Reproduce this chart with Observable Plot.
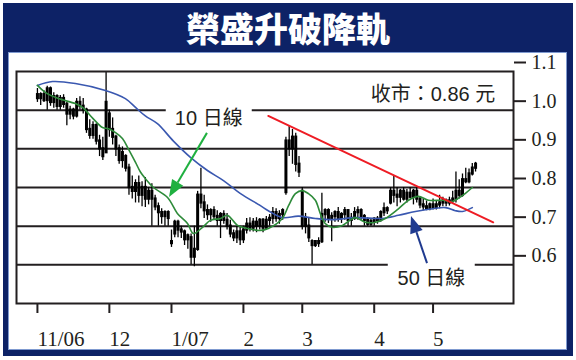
<!DOCTYPE html>
<html><head><meta charset="utf-8">
<script src="https://cdn.jsdelivr.net/npm/d3@7"></script>
<script src="https://cdn.jsdelivr.net/npm/@observablehq/plot@0.6"></script>
<style>
body{margin:0;background:#fff}
#wrap{position:relative;width:576px;height:360px;overflow:hidden;background:#fff}
#outer{position:absolute;left:3px;top:3px;width:570px;height:353px;background:#0d2266}
#title{position:absolute;left:3px;top:3px;width:570px;height:49px;line-height:49px;text-align:center;color:#fff;font-family:"Noto Sans CJK TC";font-weight:900;font-size:34px}
#inner{position:absolute;left:8px;top:52px;width:559px;height:298px;background:#fff;border:1px solid #7f9ad0;box-sizing:border-box}
#chart{position:absolute;left:0;top:48px}
</style></head>
<body>
<div id="wrap">
  <div id="outer"></div>
  <div id="title">榮盛升破降軌</div>
  <div id="inner"></div>
  <div id="chart"></div>
</div>
<script>
// Daily candles, trading-day index 0 = 1 Nov 2006
const opens = [
1.040,1.030,1.040,1.025,1.055,1.020,1.035,1.010,1.030,1.015,
0.990,1.000,0.985,1.020,1.010,1.000,0.950,0.935,0.960,0.920,
0.900,1.020,0.990,0.950,0.930,0.900,0.870,0.880,0.850,0.800,
0.790,0.810,0.780,0.800,0.770,0.790,0.770,0.750,0.735,0.725,
0.735,0.660,0.680,0.710,0.690,0.685,0.665,0.670,0.620,0.640,
0.780,0.760,0.740,0.730,0.740,0.725,0.715,0.730,0.715,0.700,
0.680,0.670,0.685,0.665,0.690,0.705,0.695,0.710,0.700,0.715,
0.695,0.715,0.720,0.735,0.720,0.730,0.787,0.920,0.900,0.930,
0.860,0.790,0.720,0.700,0.660,0.650,0.660,0.660,0.730,0.740,
0.720,0.725,0.735,0.720,0.730,0.740,0.715,0.720,0.735,0.740,
0.725,0.715,0.705,0.712,0.718,0.715,0.735,0.745,0.760,0.790,
0.780,0.775,0.790,0.770,0.785,0.775,0.790,0.770,0.755,0.750,
0.745,0.755,0.748,0.755,0.760,0.765,0.760,0.765,0.770,0.790,
0.780,0.820,0.815,0.835,0.850];
const highs = [
1.056,1.045,1.050,1.062,1.060,1.045,1.040,1.038,1.040,1.020,
1.010,1.005,1.030,1.035,1.030,1.005,0.975,0.970,0.965,0.935,
0.930,1.100,1.000,0.980,0.935,0.910,0.905,0.885,0.860,0.830,
0.820,0.830,0.815,0.826,0.800,0.810,0.780,0.760,0.745,0.740,
0.740,0.690,0.715,0.715,0.700,0.690,0.680,0.680,0.700,0.790,
0.850,0.780,0.755,0.745,0.750,0.740,0.735,0.740,0.733,0.715,
0.690,0.700,0.700,0.700,0.720,0.722,0.720,0.722,0.720,0.720,
0.725,0.730,0.748,0.745,0.740,0.745,0.930,0.960,0.950,0.940,
0.880,0.800,0.733,0.720,0.665,0.663,0.670,0.785,0.745,0.745,
0.735,0.740,0.748,0.735,0.748,0.742,0.733,0.748,0.750,0.745,
0.730,0.722,0.720,0.722,0.725,0.740,0.760,0.750,0.800,0.830,
0.800,0.795,0.800,0.795,0.800,0.795,0.800,0.775,0.770,0.765,
0.760,0.770,0.765,0.780,0.775,0.770,0.775,0.790,0.840,0.820,
0.835,0.850,0.848,0.862,0.865];
const lows = [
1.020,1.012,1.020,1.000,1.010,1.005,1.000,1.000,1.005,0.960,
0.975,0.975,0.980,1.000,0.990,0.940,0.925,0.925,0.910,0.880,
0.870,0.890,0.930,0.910,0.880,0.860,0.850,0.840,0.780,0.770,
0.760,0.760,0.750,0.748,0.755,0.700,0.740,0.700,0.705,0.700,
0.700,0.645,0.670,0.670,0.668,0.650,0.640,0.600,0.595,0.635,
0.745,0.720,0.715,0.710,0.715,0.700,0.668,0.705,0.690,0.670,
0.660,0.655,0.650,0.655,0.680,0.685,0.685,0.683,0.690,0.683,
0.690,0.700,0.705,0.710,0.705,0.715,0.780,0.880,0.860,0.840,
0.826,0.690,0.680,0.658,0.600,0.645,0.645,0.655,0.710,0.707,
0.660,0.710,0.710,0.707,0.715,0.700,0.700,0.715,0.715,0.715,
0.700,0.700,0.700,0.700,0.705,0.710,0.725,0.730,0.755,0.760,
0.750,0.760,0.765,0.760,0.770,0.755,0.760,0.745,0.740,0.740,
0.740,0.742,0.742,0.745,0.750,0.750,0.752,0.758,0.760,0.770,
0.775,0.810,0.810,0.830,0.840];
const closes = [
1.030,1.040,1.025,1.055,1.020,1.035,1.010,1.030,1.015,0.990,
1.000,0.985,1.020,1.010,1.000,0.950,0.935,0.960,0.920,0.900,
0.880,0.890,0.950,0.930,0.900,0.870,0.890,0.850,0.800,0.790,
0.810,0.780,0.800,0.770,0.790,0.770,0.750,0.735,0.725,0.735,
0.720,0.655,0.710,0.690,0.685,0.665,0.675,0.620,0.640,0.780,
0.760,0.740,0.730,0.740,0.725,0.715,0.730,0.715,0.700,0.680,
0.670,0.685,0.665,0.690,0.705,0.695,0.710,0.700,0.715,0.695,
0.715,0.720,0.735,0.720,0.730,0.740,0.920,0.900,0.930,0.860,
0.840,0.700,0.700,0.670,0.650,0.660,0.655,0.730,0.740,0.720,
0.725,0.735,0.720,0.730,0.740,0.715,0.720,0.735,0.740,0.725,
0.715,0.705,0.712,0.718,0.715,0.735,0.745,0.740,0.790,0.780,
0.775,0.790,0.770,0.785,0.775,0.790,0.770,0.755,0.750,0.745,
0.755,0.748,0.755,0.760,0.765,0.760,0.765,0.770,0.790,0.780,
0.820,0.815,0.835,0.850,0.860];

// 10-day moving average (day index, price)
const ma10Days = [0,2.4,6.4,11.6,13.8,16.8,19.9,21.7,23.9,26,27.8,30,31.5,33,35.5,39.8,42.8,45.9,47.7,50.5,52.9,56,58.1,61.2,64.2,68.2,70.6,74.9,76.8,78.9,81,82.9,85,86.5,88,90.2,93.3,97.2,100.3,103.4,106.4,110.4,113.5,116.5,119.6,123.9,126.9,128.7,130.9,133];
const ma10Vals = [1.064,1.046,1.030,1.017,1.007,0.980,0.955,0.952,0.942,0.927,0.900,0.865,0.840,0.823,0.800,0.774,0.733,0.707,0.681,0.697,0.715,0.720,0.728,0.702,0.694,0.689,0.694,0.720,0.753,0.784,0.792,0.784,0.767,0.733,0.707,0.697,0.702,0.722,0.710,0.710,0.720,0.745,0.767,0.777,0.767,0.767,0.764,0.772,0.785,0.800];
// 50-day moving average
const ma50Days = [0,4.6,11.6,20.8,26.9,30,33,36.7,41.6,46.8,52,56.9,62,68.2,70.6,75,79.8,85,90.2,97.2,103.4,105.5,110.4,115.6,120.8,124.8,127.8,130,133];
const ma50Vals = [1.064,1.074,1.069,1.051,1.030,1.007,0.985,0.965,0.920,0.878,0.844,0.818,0.785,0.753,0.740,0.722,0.726,0.720,0.717,0.722,0.720,0.720,0.728,0.738,0.745,0.748,0.740,0.738,0.748];
// falling trend line
const trendDays = [70.6, 139.4];
const trendVals = [0.985, 0.710];

// month ticks (trading-day index) and labels
const monthTicks = [0, 22, 41, 63, 81, 103, 121];
const monthLabels = ["11/06", "12", "1/07", "2", "3", "4", "5"];
const priceTicks = [0.6, 0.7, 0.8, 0.9, 1.0, 1.1];
const gridLevels = [0.6, 0.7, 0.8, 0.9, 1.0];

// annotations
const noteTexts = ["10 日線", "50 日線", "收市：0.86 元"];
const noteDays = [52.4, 120.5, 140];
const notePrices = [0.978, 0.565, 1.040];
const noteAnchors = ["middle", "middle", "end"];
const gapDays1 = [39.4, 107.3];
const gapDays2 = [65.7, 133.9];
const gapLow = [0.955, 0.535];
const gapHigh = [1.005, 0.615];
const arrowFromDays = [52, 119.3];
const arrowFromPrices = [0.94, 0.603];
const arrowToDays = [40.4, 114.4];
const arrowToPrices = [0.774, 0.725];
const arrowColors = ["#1fb040", "#1f3a8f"];

const candles = closes.map((c, i) => ({i, open: opens[i], high: highs[i], low: lows[i], close: c,
  b1: Math.min(opens[i], c) - 0.003, b2: Math.max(opens[i], c) + 0.003}));
const ma10 = ma10Days.map((d, k) => ({i: d, v: ma10Vals[k]}));
const ma50 = ma50Days.map((d, k) => ({i: d, v: ma50Vals[k]}));
const trend = trendDays.map((d, k) => ({i: d, v: trendVals[k]}));
const notes = noteTexts.map((t, k) => ({t, i: noteDays[k], v: notePrices[k], a: noteAnchors[k]}));
const gaps = gapDays1.map((d, k) => ({x1: d, x2: gapDays2[k], y1: gapLow[k], y2: gapHigh[k]}));
const arrows = arrowFromDays.map((d, k) => ({x1: d, y1: arrowFromPrices[k], x2: arrowToDays[k], y2: arrowToPrices[k], c: arrowColors[k]}));
const labelOf = new Map(monthTicks.map((t, k) => [t, monthLabels[k]]));

const ink = "#231f20";
const sans = "Liberation Sans, Noto Sans CJK TC, sans-serif";
const serif = "Liberation Serif, DejaVu Serif, serif";

function arrowMark(index, scales) {
  const g = d3.create("svg:g");
  for (const a of arrows) {
    const x1 = scales.x(a.x1), y1 = scales.y(a.y1), x2 = scales.x(a.x2), y2 = scales.y(a.y2);
    const ang = Math.atan2(y2 - y1, x2 - x1);
    const L = 17, W = 6.5;
    const bx = x2 - L * Math.cos(ang), by = y2 - L * Math.sin(ang);
    g.append("line").attr("x1", x1).attr("y1", y1).attr("x2", bx).attr("y2", by)
      .attr("stroke", a.c).attr("stroke-width", 2);
    g.append("path")
      .attr("d", `M${x2},${y2}L${bx - W * Math.sin(ang)},${by + W * Math.cos(ang)}L${bx + W * Math.sin(ang)},${by - W * Math.cos(ang)}Z`)
      .attr("fill", a.c);
  }
  return g.node();
}

const chart = Plot.plot({
  width: 576, height: 302,
  marginLeft: 16, marginRight: 63, marginTop: 23, marginBottom: 47,
  x: {domain: [-6.4, 145.6]},
  y: {domain: [0.5, 1.1]},
  style: {background: "transparent", overflow: "visible"},
  marks: [
    Plot.ruleY(gridLevels, {stroke: ink, strokeWidth: 2}),
    Plot.rect(gaps, {x1: "x1", x2: "x2", y1: "y1", y2: "y2", fill: "white"}),
    Plot.ruleX(candles, {x: "i", y1: "low", y2: "high", stroke: "#000", strokeWidth: 1.3}),
    Plot.ruleX(candles, {x: "i", y1: "b1", y2: "b2", stroke: "#000", strokeWidth: 3}),
    Plot.line(ma50, {x: "i", y: "v", stroke: "#3a58b0", strokeWidth: 1.6, curve: "catmull-rom"}),
    Plot.line(ma10, {x: "i", y: "v", stroke: "#2e8b3a", strokeWidth: 1.6, curve: "catmull-rom"}),
    Plot.line(trend, {x: "i", y: "v", stroke: "#ee1c24", strokeWidth: 2}),
    arrowMark,
    Plot.text(notes, {x: "i", y: "v", text: "t", textAnchor: "end", filter: d => d.a === "end", fontSize: 20, fontFamily: sans, fill: ink}),
    Plot.text(notes, {x: "i", y: "v", text: "t", filter: d => d.a === "middle", fontSize: 20, fontFamily: sans, fill: ink}),
    Plot.frame({stroke: ink, strokeWidth: 2}),
    Plot.axisY({anchor: "right", ticks: priceTicks, tickFormat: d => d.toFixed(1), tickSize: 12, tickPadding: 6,
      dy: -9, fontSize: 20, fontFamily: serif, color: ink, strokeWidth: 2}),
    Plot.axisX({ticks: monthTicks, tickFormat: d => labelOf.get(d), tickSize: 10, tickPadding: 18,
      textAnchor: "start", fontSize: 21, fontFamily: serif, color: ink, strokeWidth: 2})
  ]
});
document.getElementById("chart").appendChild(chart);
</script>
</body></html>
